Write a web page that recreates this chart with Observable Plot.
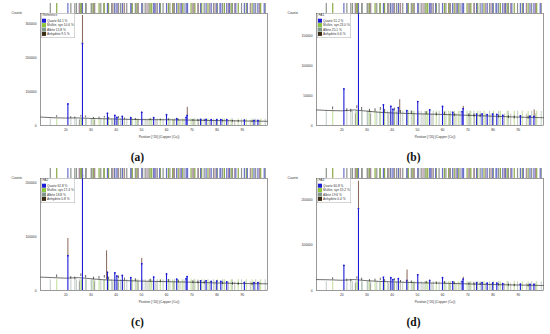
<!DOCTYPE html>
<html><head><meta charset="utf-8">
<script src="https://cdn.jsdelivr.net/npm/d3@7"></script>
<script src="https://cdn.jsdelivr.net/npm/@observablehq/plot@0.6"></script>
<style>
body{margin:0;background:#fff;}
#root{position:relative;width:550px;height:334px;overflow:hidden;background:#fff;}
.panel{position:absolute;width:275px;height:168px;}
.panel svg{position:absolute;left:0;top:0;}
.cap{position:absolute;left:0;top:151px;width:275px;text-align:center;line-height:12px;font:bold 11.5px "Liberation Serif","DejaVu Serif",serif;color:#111;}
</style></head><body><div id="root"></div>
<script>
// ---- data ----
const phases = ["Quartz", "Mullite, syn", "Albite", "Anhydrite"];
const phaseColors = ["#1b1bd6", "#8cc43c", "#7f978a", "#3b2c14"];
const stripColors = ["#6a70c8", "#8aa845", "#8e948e", "#a98b9a"];
const panelLabels = ["(a)", "(b)", "(c)", "(d)"];
const panelTitles = ["Reference", "FA1", "FA2", "FA3"];
const fracA = [64.1, 10.6, 15.8, 9.5];
const fracB = [51.2, 23.0, 25.1, 0.6];
const fracC = [62.8, 17.4, 18.8, 0.8];
const fracD = [60.8, 19.2, 19.6, 0.4];

const xTicks = [20, 30, 40, 50, 60, 70, 80, 90];
const yTicksA = [0, 100000, 200000, 300000];
const yTicksB = [0, 50000, 100000, 150000];
const yTicksC = [0, 100000, 200000];
const yTicksD = [0, 100000, 200000];
const yMax = [332000, 187000, 209000, 246000];

// reference peak positions (°2θ)
const quartzRef = [20.86, 26.64, 36.54, 39.47, 40.29, 42.45, 45.79, 50.14, 54.87, 55.33, 57.24, 59.96, 63.99, 65.79, 67.74, 68.14, 68.31, 73.47, 75.66, 77.68, 79.88, 81.17, 81.49, 83.84, 84.97, 87.44, 90.83, 92.0, 94.64, 96.2, 98.7];
const mulliteRef = [16.43, 25.97, 26.27, 30.96, 33.22, 35.27, 37.0, 39.3, 40.87, 42.6, 46.4, 48.2, 53.45, 54.1, 57.5, 60.7, 62.4, 64.6, 66.2, 69.7, 71.2, 73.9, 76.4, 80.1, 82.9, 85.6, 88.4, 91.6, 93.9, 97.3];
const albiteRef = [13.88, 22.04, 23.6, 24.26, 25.4, 27.9, 28.1, 30.1, 30.4, 31.5, 33.9, 35.1, 36.8, 38.2, 41.7, 42.5, 44.2, 46.0, 47.6, 48.7, 50.5, 51.5, 53.0, 56.3, 58.6, 61.3, 63.1, 66.9, 70.8, 72.4, 74.9, 78.6, 82.2, 86.1, 89.7, 95.3, 99.1];
const anhydriteRef = [25.45, 31.38, 38.64, 40.81, 43.3, 48.66, 52.24, 55.75, 62.8, 65.3, 70.4, 72.6, 77.1, 79.2, 84.5, 87.0, 93.2, 96.8];
const stickTop = [19000, 24000, 20000, 19000];

// background of the measured pattern
const bgX = [10, 15, 20, 25, 30, 35, 40, 50, 60, 70, 80, 90, 100];
const bgA = [25000, 23000, 22000, 22500, 21000, 20000, 19000, 17500, 17000, 16000, 14500, 13500, 12500];
const bgB = [26000, 25000, 24500, 26000, 24000, 22000, 21000, 19500, 18500, 17000, 15500, 14000, 13000];
const bgC = [25000, 24000, 23000, 24000, 22000, 20000, 19000, 17500, 16500, 15500, 14000, 13000, 12500];
const bgD = [24000, 23500, 22500, 24000, 21500, 20000, 19000, 17000, 16000, 14500, 13000, 12000, 11000];

// quartz peaks (counts)
const qX = [20.86, 26.64, 36.54, 39.47, 40.29, 42.45, 45.79, 50.14, 54.87, 59.96, 64.0, 67.74, 68.14, 73.47, 75.66, 77.68, 79.88, 81.49, 83.84, 90.83, 94.64, 96.2];
const qA = [64000, 243000, 36000, 30000, 24000, 27000, 23000, 39000, 23000, 32000, 20000, 24000, 30000, 18000, 18000, 17000, 17000, 17500, 17000, 15500, 15000, 15000];
const qB = [61000, 188000, 34500, 32000, 27000, 30000, 25000, 40000, 26000, 31700, 22000, 23000, 28000, 19000, 19000, 18000, 19000, 18500, 17000, 16000, 15500, 15000];
const qC = [65000, 214000, 34000, 33000, 27000, 28000, 24000, 50000, 25000, 31000, 21000, 22000, 26000, 18000, 18000, 17000, 17500, 17000, 16000, 15000, 14500, 14500];
const qD = [55000, 180000, 29000, 28000, 24000, 26000, 22000, 34500, 22000, 28000, 19000, 20000, 25000, 17000, 17000, 16000, 16500, 16000, 15000, 14000, 13500, 13500];

// small peaks of the other phases in the measured pattern
const minorX = [16.4, 22.0, 23.6, 26.0, 27.9, 31.0, 33.2, 35.3, 37.0, 40.9, 43.3, 47.6, 53.5, 57.5, 60.7, 64.6, 70.4, 72.4, 74.9, 82.2, 86.1, 88.4, 93.9];
const minorA = [29000, 26000, 25000, 30000, 28000, 24000, 25000, 27000, 24000, 26000, 22000, 21000, 20000, 19000, 20000, 18500, 18000, 17500, 17000, 16000, 15000, 14500, 14000];
const minorB = [31000, 28000, 27000, 33000, 30000, 27000, 28000, 30000, 27000, 29000, 25000, 24000, 23000, 21000, 22000, 20000, 19500, 19000, 18500, 17500, 16500, 16000, 15500];
const minorC = [29000, 26000, 25000, 31000, 28000, 25000, 26000, 28000, 25000, 27000, 23000, 22000, 21000, 19500, 20500, 19000, 18000, 17500, 17000, 16000, 15000, 14500, 14000];
const minorD = [28000, 25000, 24000, 30000, 27000, 24000, 25000, 27000, 24000, 26000, 22000, 21000, 20000, 18500, 19500, 18000, 17000, 16500, 16000, 15000, 14000, 13500, 13000];

// measured intensity exceeding the quartz sticks
const obsXA = [26.64, 68.2], obsLoA = [243000, 30000], obsHiA = [326000, 54000];
const obsXB = [43.0, 68.2, 96.3], obsLoB = [21000, 28000, 15000], obsHiB = [43000, 32000, 26000];
const obsXC = [20.86, 36.2, 50.14], obsLoC = [65000, 20000, 50000], obsHiC = [97000, 74000, 60000];
const obsXD = [26.64, 45.9, 68.2], obsLoD = [180000, 19000, 25000], obsHiD = [240000, 45000, 29000];

// ---- build ----
const panels = [
  {left: 0, top: 0, yticks: yTicksA, bg: bgA, q: qA, minor: minorA, ox: obsXA, olo: obsLoA, ohi: obsHiA, frac: fracA},
  {left: 276, top: 0, yticks: yTicksB, bg: bgB, q: qB, minor: minorB, ox: obsXB, olo: obsLoB, ohi: obsHiB, frac: fracB},
  {left: 0, top: 165, yticks: yTicksC, bg: bgC, q: qC, minor: minorC, ox: obsXC, olo: obsLoC, ohi: obsHiC, frac: fracC},
  {left: 276, top: 165, yticks: yTicksD, bg: bgD, q: qD, minor: minorD, ox: obsXD, olo: obsLoD, ohi: obsHiD, frac: fracD}
];
const root = document.getElementById("root");
const fontFam = "Liberation Sans, Arial, sans-serif";

panels.forEach((p, k) => {
  const div = document.createElement("div");
  div.className = "panel";
  div.style.left = p.left + "px";
  div.style.top = p.top + "px";
  root.appendChild(div);

  const bg = bgX.map((x, i) => ({x, y: p.bg[i]}));
  const q = qX.map((x, i) => ({x, y: p.q[i]}));
  const minor = minorX.map((x, i) => ({x, y: p.minor[i]}));
  const obs = p.ox.map((x, i) => ({x, y1: p.olo[i], y2: p.ohi[i]}));

  const main = Plot.plot({
    width: 275, height: 140, marginLeft: 40, marginRight: 8, marginTop: 13, marginBottom: 15,
    style: {background: "transparent", fontFamily: fontFam, fontSize: "3.3px", color: "#333"},
    x: {domain: [10, 100], ticks: xTicks, tickSize: 0, tickPadding: 3, label: null},
    y: {domain: [0, yMax[k]], ticks: p.yticks, tickFormat: d => String(d), tickSize: 0, tickPadding: 4, label: null},
    marks: [
      Plot.ruleX(mulliteRef, {y1: 0, y2: stickTop[k], stroke: phaseColors[1], strokeOpacity: 0.5, strokeWidth: 1.1}),
      Plot.ruleX(albiteRef, {y1: 0, y2: stickTop[k], stroke: phaseColors[2], strokeOpacity: 0.45, strokeWidth: 1.1}),
      Plot.ruleX(anhydriteRef, {y1: 0, y2: stickTop[k] * 0.8, stroke: phaseColors[3], strokeOpacity: 0.5, strokeWidth: 0.6}),
      Plot.line(bg, {x: "x", y: "y", stroke: "#333", strokeWidth: 0.7}),
      Plot.ruleX(minor, {x: "x", y1: d => d.y - 5000, y2: "y", stroke: "#222", strokeWidth: 0.7}),
      Plot.ruleX(q, {x: "x", y1: 0, y2: "y", stroke: phaseColors[0], strokeWidth: 1.1}),
      Plot.dot(q, {x: "x", y: "y", r: 0.9, fill: phaseColors[0]}),
      Plot.ruleX(obs, {x: "x", y1: "y1", y2: "y2", stroke: "#7a5646", strokeWidth: 0.9}),
      Plot.frame({stroke: "#555", strokeWidth: 0.6}),
      Plot.text(["Counts"], {frameAnchor: "top-left", dx: -29, dy: -2, textAnchor: "start"}),
      Plot.text(["Position [°2θ] (Copper (Cu))"], {frameAnchor: "bottom", dy: 12, dx: 5})
    ]
  });
  div.appendChild(main);

  const strip = Plot.plot({
    width: 275, height: 13, marginLeft: 40, marginRight: 8, marginTop: 3, marginBottom: 0,
    style: {background: "transparent"},
    x: {domain: [10, 100], axis: null},
    marks: [
      Plot.ruleX(albiteRef, {stroke: stripColors[2], strokeWidth: 1.2}),
      Plot.ruleX(mulliteRef, {stroke: stripColors[1], strokeWidth: 1.2}),
      Plot.ruleX(anhydriteRef, {stroke: stripColors[3], strokeWidth: 1.2}),
      Plot.ruleX(quartzRef, {stroke: stripColors[0], strokeWidth: 1.2})
    ]
  });
  div.appendChild(strip);

  // legend
  const lg = d3.create("svg").attr("width", 34).attr("height", 25)
    .style("position", "absolute").style("left", "41px").style("top", "13px")
    .style("font-family", fontFam).style("font-size", "3.2px");
  lg.append("rect").attr("x", 0.25).attr("y", 0.25).attr("width", 33.5).attr("height", 24.5)
    .attr("fill", "#fff").attr("stroke", "#aaa").attr("stroke-width", 0.5);
  lg.append("text").attr("x", 1.5).attr("y", 3.3).text(panelTitles[k]).attr("fill", "#333");
  phases.forEach((name, i) => {
    const cy = 7.7 + i * 4.4;
    lg.append("rect").attr("x", 1).attr("y", cy - 2).attr("width", 4).attr("height", 4).attr("fill", phaseColors[i]);
    lg.append("text").attr("x", 6).attr("y", cy + 1.1).attr("fill", "#333")
      .text(`${name} ${p.frac[i].toFixed(1)} %`);
  });
  div.appendChild(lg.node());

  const cap = document.createElement("div");
  cap.className = "cap";
  cap.textContent = panelLabels[k];
  div.appendChild(cap);
});
</script></body></html>
